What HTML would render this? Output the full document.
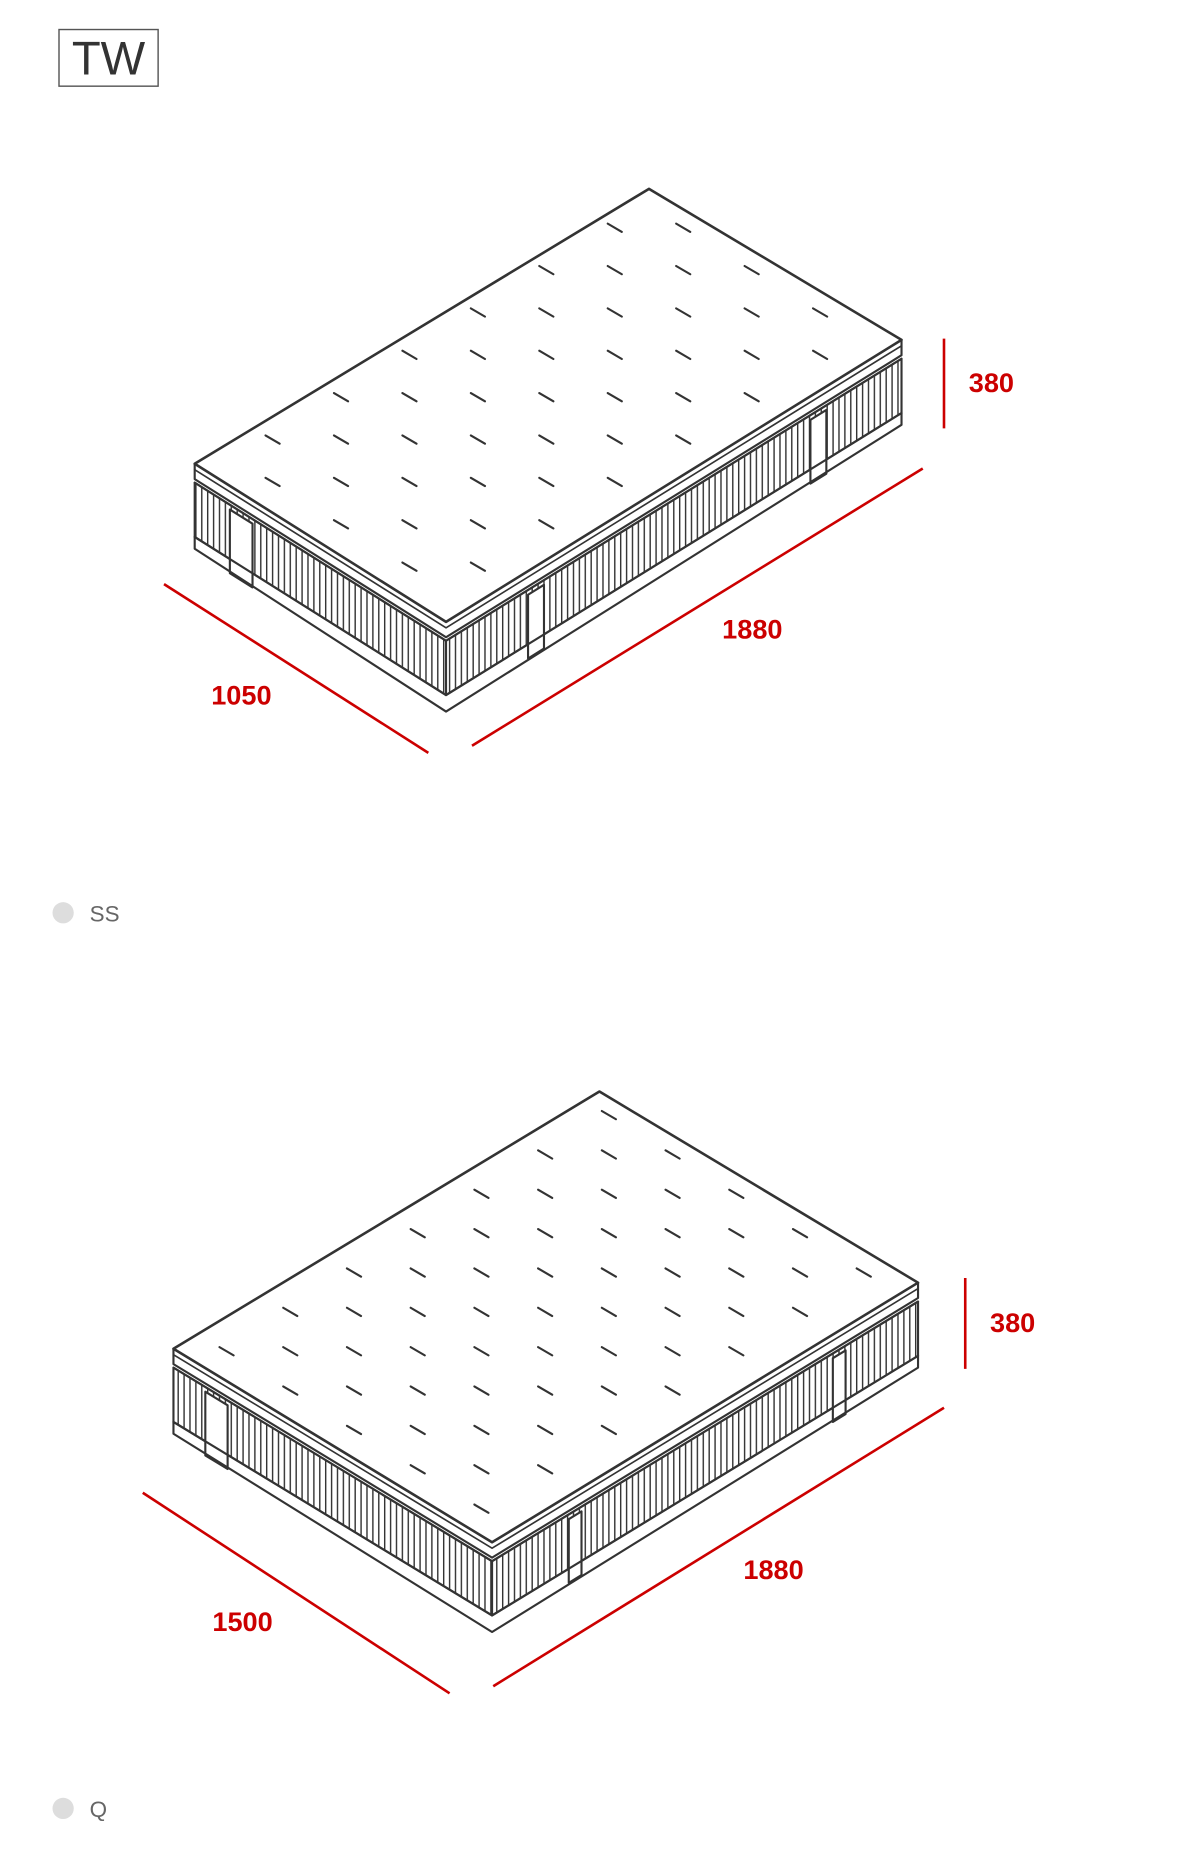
<!DOCTYPE html>
<html><head><meta charset="utf-8"><style>
html,body{margin:0;padding:0;background:#fff;width:1180px;height:1870px;overflow:hidden}
svg{display:block}
</style></head><body>
<svg id="s" width="1180" height="1870" viewBox="0 0 1000 1584.7" xmlns="http://www.w3.org/2000/svg">
<defs>
<pattern id="st" patternUnits="userSpaceOnUse" width="5" height="10">
<rect width="5" height="10" fill="#fff"/>
<line x1="1" y1="0" x2="1" y2="10" stroke="#333" stroke-width="1.2"/>
</pattern>
</defs>
<rect x="50" y="25" width="84" height="48" fill="#fff" stroke="#555" stroke-width="1.2"/>
<text x="92" y="63" font-family="Liberation Sans, sans-serif" font-size="40" fill="#333" text-anchor="middle">TW</text>
<circle cx="53.5" cy="773.5" r="9" fill="#ddd"/>
<text x="76" y="781" font-family="Liberation Sans, sans-serif" font-size="19" fill="#666">SS</text>
<circle cx="53.5" cy="1532.5" r="9" fill="#ddd"/>
<text x="76" y="1540" font-family="Liberation Sans, sans-serif" font-size="19" fill="#666">Q</text>
<g stroke="#c00" stroke-width="2.2">
<line x1="139" y1="495" x2="363" y2="638"/>
<line x1="400" y1="632" x2="782" y2="397"/>
<line x1="800" y1="287" x2="800" y2="363"/>
<line x1="121" y1="1265" x2="381" y2="1435"/>
<line x1="418" y1="1429" x2="800" y2="1193"/>
<line x1="818" y1="1083" x2="818" y2="1160"/>
</g>
<g font-family="Liberation Sans, sans-serif" font-size="23" font-weight="bold" fill="#c00">
<text x="179" y="597">1050</text>
<text x="612" y="541">1880</text>
<text x="821" y="332">380</text>
<text x="180" y="1382">1500</text>
<text x="630" y="1338">1880</text>
<text x="839" y="1129">380</text>
</g>
<g id="m"></g>
</svg>
<script>
var NS="http://www.w3.org/2000/svg",G=document.getElementById("m");
function el(t,a){var e=document.createElementNS(NS,t);for(var k in a)e.setAttribute(k,a[k]);G.appendChild(e);return e;}
function P(p){return p.map(function(q){return q[0].toFixed(1)+","+q[1].toFixed(1)}).join(" ");}
function d(p,dy){return [p[0],p[1]+dy];}
function lerp(a,b,t){return [a[0]+(b[0]-a[0])*t,a[1]+(b[1]-a[1])*t];}
var S={stroke:"#333","stroke-width":"1.8",fill:"none","stroke-linejoin":"round","stroke-linecap":"round"};
function A(o){var r={};for(var k in S)r[k]=S[k];for(var k in o)r[k]=o[k];return r;}
function mat(T,R,F,L,gx0,gdx,gy0,gdy,nx,ny,handles){
 var y1=16,y2=62,y3=76;
 el("polygon",A({points:P([d(L,y1),d(F,y1),d(F,y2),d(L,y2)]),fill:"url(#st)"}));
 el("polygon",A({points:P([d(F,y1),d(R,y1),d(R,y2),d(F,y2)]),fill:"url(#st)"}));
 handles.forEach(function(h){
  var a=h[0],b=h[1],t=h[2],w=h[3];
  var p1=lerp(a,b,t),p2=lerp(a,b,t+w);
  el("polygon",A({points:P([d(p1,y1+4),d(p2,y1+4),d(p2,y3-2),d(p1,y3-2)]),fill:"#fff"}));
 });
 el("polyline",A({points:P([d(L,y2),d(F,y2),d(R,y2)])}));
 el("polyline",A({points:P([d(L,y2),d(L,y3-4),d(F,y3),d(R,y3-4),d(R,y2)])}));
 el("polyline",A({points:P([d(L,y1),d(F,y1),d(R,y1)])}));
 el("polyline",A({points:P([L,d(L,13),d(F,13),d(R,13),R])}));
 el("polyline",A({points:P([d(L,5),d(F,5),d(R,5)]),"stroke-width":"1.4"}));
 el("polygon",A({points:P([T,R,F,L]),fill:"#fff","stroke-width":"2.2"}));
 var poly=[T,R,F,L];
 function dist(p,a,b){var dx=b[0]-a[0],dy=b[1]-a[1];return (dx*(p[1]-a[1])-dy*(p[0]-a[0]))/Math.hypot(dx,dy);}
 for(var i=0;i<nx;i++)for(var j=0;j<ny;j++){
  var p=[gx0+i*gdx,gy0+j*gdy],ok=true;
  for(var k=0;k<4;k++){if(dist(p,poly[k],poly[(k+1)%4])<10){ok=false;break;}}
  if(ok)el("line",A({x1:p[0]-6,y1:p[1]-3.5,x2:p[0]+6,y2:p[1]+3.5,"stroke-width":"1.8"}));
 }
}
mat([550,160],[764,288],[378,527],[165,393],231,58,193,35.9,9,9,
 [[[165,393],[378,527],0.14,0.09],[[378,527],[764,288],0.18,0.035],[[378,527],[764,288],0.8,0.035]]);
mat([508,925],[778,1087],[417,1307],[147,1143],192,54,945,33.35,11,11,
 [[[147,1143],[417,1307],0.1,0.07],[[417,1307],[778,1087],0.18,0.03],[[417,1307],[778,1087],0.8,0.03]]);
</script>
</body></html>
